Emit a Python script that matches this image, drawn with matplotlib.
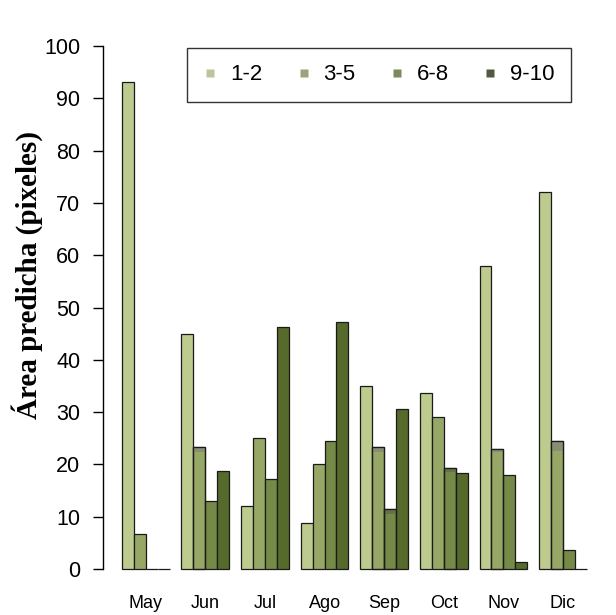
import numpy as np
import matplotlib
matplotlib.use("Agg")
import matplotlib.pyplot as plt
from matplotlib.lines import Line2D

# Predicted area per month and class
months = ["May", "Jun", "Jul", "Ago", "Sep", "Oct", "Nov", "Dic"]
classes = ["1-2", "3-5", "6-8", "9-10"]
area_1_2 = [93.1, 44.9, 12.0, 8.9, 34.9, 33.6, 58.0, 72.0]
area_3_5 = [6.7, 23.4, 25.1, 20.0, 23.3, 29.1, 23.0, 24.5]
area_6_8 = [0.0, 13.1, 17.3, 24.4, 11.5, 19.3, 18.0, 3.6]
area_9_10 = [0.0, 18.8, 46.3, 47.2, 30.6, 18.4, 1.4, 0.0]
# darker top band shown on some bars
cap_3_5 = [0.0, 1.0, 0.0, 0.0, 1.0, 0.0, 0.6, 2.0]
cap_6_8 = [0.0, 0.0, 0.0, 0.0, 1.0, 0.8, 0.0, 0.0]

series = [area_1_2, area_3_5, area_6_8, area_9_10]
caps = [None, cap_3_5, cap_6_8, None]
colors = ["#bdcb8f", "#97a866", "#748a46", "#566b2b"]
legend_colors = ["#bcc49a", "#99a47a", "#7a8a5a", "#4f5a40"]
cap_colors = [None, "#85857a", "#5f6a48", None]

W, H = 616, 615
fig = plt.figure(figsize=(W / 100, H / 100), dpi=100)
ax = fig.add_axes([102.8 / W, 25 / H, 515 / W, 565 / H])

n_groups = len(months)
group_start = 1 + 5 * np.arange(n_groups)
for k, (vals, col) in enumerate(zip(series, colors)):
    x = group_start + k
    ax.bar(x, vals, width=1.0, align="edge", color=col,
           edgecolor="#1a1a1a", linewidth=0.9, zorder=2)
    if caps[k] is not None:
        v = np.array(vals)
        c = np.array(caps[k])
        m = c > 0
        ax.bar(x[m], c[m], bottom=v[m] - c[m], width=1.0, align="edge",
               color=cap_colors[k], edgecolor="none", linewidth=0,
               alpha=0.75, zorder=3)
        ax.bar(x[m], v[m], width=1.0, align="edge", fill=False,
               edgecolor="#1a1a1a", linewidth=0.9, zorder=4)

ax.set_xlim(-0.6, 42.6)
ax.set_ylim(-4, 104)

for s in ["top", "right", "bottom"]:
    ax.spines[s].set_visible(False)
ax.spines["left"].set_bounds(0, 100)
ax.spines["left"].set_linewidth(1.0)
ax.set_xticks([])
ax.set_yticks(np.arange(0, 101, 10))
ax.tick_params(axis="y", length=7.2, width=1.0, pad=9,
               labelsize=15.5, labelfontfamily="Liberation Sans")

for g, name in zip(group_start, months):
    ax.text(g + 2, -6.6, name, ha="center", va="center", fontsize=13,
            family="Liberation Sans", clip_on=False)

fig.text(27 / W, 1 - 275 / H, "Área predicha (pixeles)", rotation=90,
         ha="center", va="center", fontsize=21, fontweight="bold",
         family="Liberation Serif")

handles = [Line2D([], [], linestyle="none", marker="s", markersize=6,
                  markerfacecolor=c, markeredgecolor="none")
           for c in legend_colors]
leg = ax.legend(handles, classes, loc="center", ncol=4, mode="expand",
                bbox_to_anchor=(187 / W, 1 - 104 / H, 384 / W, 58 / H),
                bbox_transform=fig.transFigure,
                prop={"family": "Liberation Sans", "size": 16},
                frameon=True, fancybox=False, edgecolor="black",
                borderpad=0.75, handlelength=0.6, handletextpad=0.6,
                columnspacing=1.0, borderaxespad=0)
leg.get_frame().set_linewidth(1.0)

fig.savefig("out.png", dpi=100)
